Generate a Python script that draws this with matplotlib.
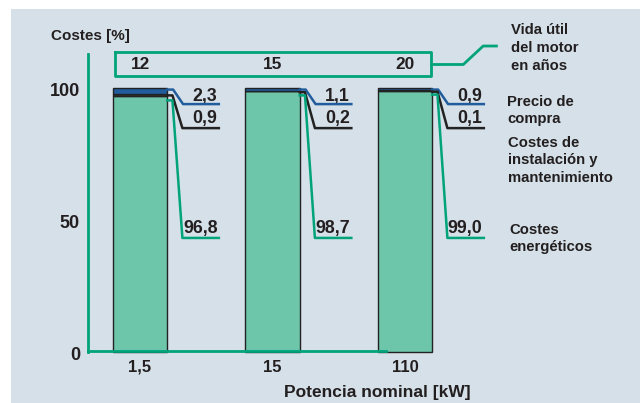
import matplotlib.pyplot as plt

plt.rcParams['font.family'] = ['Liberation Sans', 'DejaVu Sans']
plt.rcParams['font.weight'] = 'bold'

# Cost shares per motor size [%]
power_labels = ['1,5', '15', '110']
lifetime = ['12', '15', '20']
energy = [96.8, 98.7, 99.0]
install = [0.9, 0.2, 0.1]
purchase = [2.3, 1.1, 0.9]

bg = '#d5e0e8'
green = '#00a37a'
fill = '#6dc6aa'
blue = '#215d9c'
txt = '#231f20'

fig = plt.figure(figsize=(6.4, 4.03), dpi=100, facecolor='white')
ax = fig.add_axes([11 / 640, 0, 629 / 640, 394 / 403])
ax.set_facecolor(bg)
ax.set_xlim(-0.9736, 3.7736)
ax.set_ylim(-19.32, 129.92)
for s in ax.spines.values():
    s.set_visible(False)
ax.set_xticks([])
ax.set_yticks([])

x = list(range(len(energy)))
w = 0.41

# stacked bars
ax.bar(x, energy, w, color=fill, edgecolor='#222222', linewidth=1, zorder=3)
bot1 = [e for e in energy]
ax.bar(x, install, w, bottom=bot1, color='#333333', edgecolor='#222222', linewidth=1, zorder=3)
bot2 = [e + i for e, i in zip(energy, install)]
ax.bar(x, purchase, w, bottom=bot2, color=blue, edgecolor='#222222', linewidth=1, zorder=3)

# axes lines
ax.plot([-0.39, -0.39], [0, 112.9], color=green, lw=2, zorder=2)
ax.plot([-0.39, 1.86], [0.4, 0.4], color=green, lw=2, zorder=4)

for val in [0, 50, 100]:
    ax.text(-0.453, val - 1.5, str(val), ha='right', va='center', fontsize=13, color=txt)
ax.text(-0.67, 119.7, 'Costes [%]', ha='left', va='center', fontsize=11, color=txt)

# lifetime box
ax.plot([-0.19, 2.2, 2.2, -0.19, -0.19], [113.6, 113.6, 104.5, 104.5, 113.6], color=green, lw=2)
for xi, lt in zip(x, lifetime):
    ax.text(xi, 108.9, lt, ha='center', va='center', fontsize=12.4, color=txt)
ax.plot([2.2, 2.44, 2.59, 2.69], [108.9, 108.9, 115.9, 115.9], color=green, lw=2)
ax.text(2.8, 115.2, 'Vida útil\ndel motor\nen años', ha='left', va='center',
        fontsize=10.7, color=txt, linespacing=1.34)

# leader lines with values
lab = lambda v: f'{v:.1f}'.replace('.', ',')
for xi, e, i, p in zip(x, energy, install, purchase):
    xr = xi + w / 2
    top = e + i + p
    ax.plot([xr, xr + 0.045, xr + 0.12, xr + 0.39], [top - 0.6, top - 0.6, 93.9, 93.9],
            color=blue, lw=1.8, zorder=4)
    ax.plot([xr, xr + 0.04, xr + 0.115, xr + 0.39], [e + i - 0.5, e + i - 0.5, 84.8, 84.8],
            color='#222222', lw=1.8, zorder=4)
    ax.plot([xr, xr + 0.04, xr + 0.115, xr + 0.39], [e - 1.5, e - 1.5, 43.2, 43.2],
            color=green, lw=1.8, zorder=4)
    ax.text(xr + 0.38, 96.8, lab(p), ha='right', va='center', fontsize=12.8, color=txt)
    ax.text(xr + 0.38, 88.5, lab(i), ha='right', va='center', fontsize=12.8, color=txt)
    ax.text(xr + 0.38, 46.8, lab(e), ha='right', va='center', fontsize=12.8, color=txt)

# series names
ax.text(2.77, 91.5, 'Precio de\ncompra', ha='left', va='center', fontsize=10.7,
        color=txt, linespacing=1.34)
ax.text(2.78, 72.6, 'Costes de\ninstalación y\nmantenimiento', ha='left', va='center',
        fontsize=10.7, color=txt, linespacing=1.3)
ax.text(2.79, 42.9, 'Costes\nenergéticos', ha='left', va='center', fontsize=10.7,
        color=txt, linespacing=1.3)

# x labels
for xi, pl in zip(x, power_labels):
    ax.text(xi, -5.7, pl, ha='center', va='center', fontsize=12, color=txt)
ax.text(1.79, -15.2, 'Potencia nominal [kW]', ha='center', va='center', fontsize=12.5, color=txt)

fig.savefig('out.png', dpi=100, facecolor='white')
